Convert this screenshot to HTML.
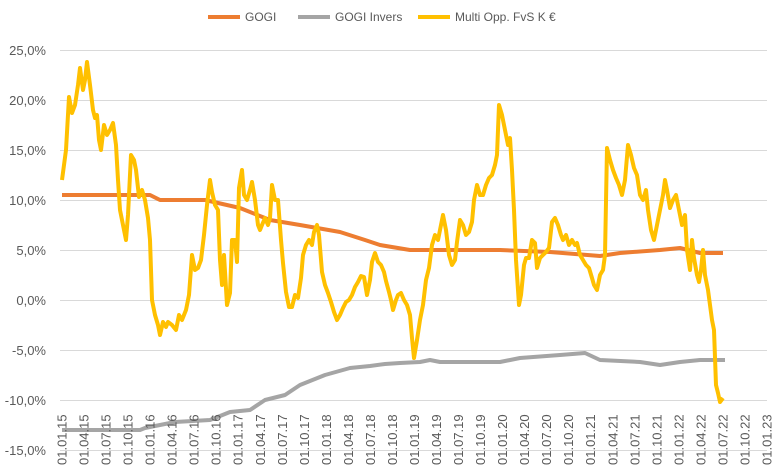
<!DOCTYPE html>
<html><head><meta charset="utf-8"><style>
body{margin:0;background:#fff}
text{font-family:"Liberation Sans",sans-serif;fill:#595959}
</style></head><body>
<svg width="776" height="471" xmlns="http://www.w3.org/2000/svg">
<g stroke="#d9d9d9" stroke-width="1">
<line x1="60" x2="767" y1="50.5" y2="50.5"/><line x1="60" x2="767" y1="100.5" y2="100.5"/>
<line x1="60" x2="767" y1="150.5" y2="150.5"/><line x1="60" x2="767" y1="200.5" y2="200.5"/>
<line x1="60" x2="767" y1="250.5" y2="250.5"/><line x1="60" x2="767" y1="300.5" y2="300.5"/>
<line x1="60" x2="767" y1="350.5" y2="350.5"/><line x1="60" x2="767" y1="400.5" y2="400.5"/>
<line x1="60" x2="767" y1="450.5" y2="450.5"/>
</g>
<g font-size="13" text-anchor="end">
<text x="46" y="55">25,0%</text><text x="46" y="105">20,0%</text><text x="46" y="155">15,0%</text>
<text x="46" y="205">10,0%</text><text x="46" y="255">5,0%</text><text x="46" y="305">0,0%</text>
<text x="46" y="355">-5,0%</text><text x="46" y="405">-10,0%</text><text x="46" y="455">-15,0%</text>
</g>
<polyline fill="none" stroke="#a5a5a5" stroke-width="4" stroke-linejoin="round" points="62,430 140,430 145,428 160,425 175,422 210,420 230,412 250,410 265,400 285,395 300,385 325,375 350,368 370,366 385,364 400,363 420,362 430,360 440,362 500,362 520,358 560,355 585,353 600,360 640,362 660,365 680,362 700,360 725,360"/>
<polyline fill="none" stroke="#ed7d31" stroke-width="4" stroke-linejoin="round" points="62,195 150,195 160,200 205,200 240,208 270,220 300,225 340,232 365,240 380,245 410,250 500,250 550,252 600,256 620,253 660,250 680,248 700,253 723,253"/>
<polyline fill="none" stroke="#ffc000" stroke-width="4" stroke-linejoin="round" points="62,180 66,150 69,97 72,113 75,105 78,85 80,68 83,90 85,80 87,62 90,85 93,110 95,118 97,115 99,140 101,150 104,125 107,135 110,130 113,123 116,145 118,180 120,210 123,225 126,240 128,215 131,155 134,160 136,170 139,197 142,190 145,200 148,218 150,240 152,300 155,315 158,325 160,335 163,322 166,327 168,322 172,325 176,330 179,315 182,320 186,310 189,295 192,255 195,270 198,268 201,260 204,235 207,205 210,180 212,192 215,205 218,210 220,260 222,285 224,255 227,305 230,293 232,240 235,240 237,262 239,188 242,170 244,195 247,200 250,190 252,182 255,200 258,225 260,230 262,225 265,218 268,225 270,218 272,185 275,200 278,200 281,240 283,263 286,292 289,307 292,307 295,295 298,298 301,278 303,255 306,245 309,240 312,245 314,232 317,225 319,235 322,272 325,285 328,293 331,302 334,312 337,320 340,315 343,308 346,302 349,300 352,295 355,287 358,282 361,276 364,277 367,295 370,280 372,262 375,253 378,262 381,265 384,272 386,281 389,292 391,300 393,310 396,300 398,295 401,293 404,300 407,305 410,315 412,338 414,358 417,340 420,320 423,305 426,280 429,268 432,245 435,235 438,240 441,225 443,215 446,230 449,255 452,265 455,260 457,242 460,220 463,225 466,235 469,232 472,222 474,200 477,185 480,195 483,195 486,185 489,178 492,175 495,165 497,155 499,105 502,115 505,130 508,145 510,138 512,170 514,210 516,260 519,305 521,295 524,265 526,258 529,258 532,240 535,243 537,268 540,258 543,255 546,252 549,248 552,222 555,218 558,225 561,235 563,240 566,235 569,245 572,240 575,245 577,243 580,255 583,260 586,265 589,268 592,278 594,285 597,290 600,275 603,270 605,255 607,148 610,160 613,170 616,178 619,185 622,195 625,180 628,145 631,155 634,168 637,175 640,195 643,200 646,190 648,210 651,230 654,240 657,225 660,210 663,195 665,180 667,190 670,208 673,200 676,195 679,210 682,225 685,215 687,250 690,270 692,240 694,258 697,275 699,282 701,270 703,250 705,275 708,290 710,305 712,320 714,330 716,385 718,393 720,402 723,398"/>
<g font-size="12">
<line x1="208" x2="240" y1="17" y2="17" stroke="#ed7d31" stroke-width="4"/><text x="245" y="21">GOGI</text>
<line x1="298" x2="330" y1="17" y2="17" stroke="#a5a5a5" stroke-width="4"/><text x="335" y="21">GOGI Invers</text>
<line x1="418" x2="450" y1="17" y2="17" stroke="#ffc000" stroke-width="4"/><text x="455" y="21">Multi Opp. FvS K €</text>
</g>
<g font-size="13">
<text transform="translate(66.5,465) rotate(-90)">01.01.15</text>
<text transform="translate(88.5,465) rotate(-90)">01.04.15</text>
<text transform="translate(110.6,465) rotate(-90)">01.07.15</text>
<text transform="translate(132.6,465) rotate(-90)">01.10.15</text>
<text transform="translate(154.6,465) rotate(-90)">01.01.16</text>
<text transform="translate(176.7,465) rotate(-90)">01.04.16</text>
<text transform="translate(198.7,465) rotate(-90)">01.07.16</text>
<text transform="translate(220.7,465) rotate(-90)">01.10.16</text>
<text transform="translate(242.7,465) rotate(-90)">01.01.17</text>
<text transform="translate(264.8,465) rotate(-90)">01.04.17</text>
<text transform="translate(286.8,465) rotate(-90)">01.07.17</text>
<text transform="translate(308.8,465) rotate(-90)">01.10.17</text>
<text transform="translate(330.9,465) rotate(-90)">01.01.18</text>
<text transform="translate(352.9,465) rotate(-90)">01.04.18</text>
<text transform="translate(374.9,465) rotate(-90)">01.07.18</text>
<text transform="translate(397,465) rotate(-90)">01.10.18</text>
<text transform="translate(419,465) rotate(-90)">01.01.19</text>
<text transform="translate(441,465) rotate(-90)">01.04.19</text>
<text transform="translate(463,465) rotate(-90)">01.07.19</text>
<text transform="translate(485.1,465) rotate(-90)">01.10.19</text>
<text transform="translate(507.1,465) rotate(-90)">01.01.20</text>
<text transform="translate(529.1,465) rotate(-90)">01.04.20</text>
<text transform="translate(551.2,465) rotate(-90)">01.07.20</text>
<text transform="translate(573.2,465) rotate(-90)">01.10.20</text>
<text transform="translate(595.2,465) rotate(-90)">01.01.21</text>
<text transform="translate(617.3,465) rotate(-90)">01.04.21</text>
<text transform="translate(639.3,465) rotate(-90)">01.07.21</text>
<text transform="translate(661.3,465) rotate(-90)">01.10.21</text>
<text transform="translate(683.3,465) rotate(-90)">01.01.22</text>
<text transform="translate(705.4,465) rotate(-90)">01.04.22</text>
<text transform="translate(727.4,465) rotate(-90)">01.07.22</text>
<text transform="translate(749.4,465) rotate(-90)">01.10.22</text>
<text transform="translate(771.5,465) rotate(-90)">01.01.23</text>
</g>
</svg>
</body></html>
